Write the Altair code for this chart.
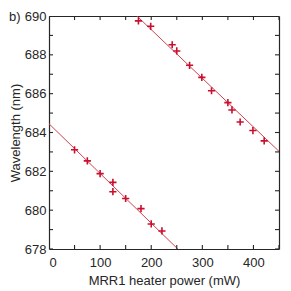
import altair as alt
import pandas as pd

# Measured points (lower resonance series)
low_x = [50, 75, 100, 125, 125, 150, 180, 200, 221]
low_y = [683.11, 682.54, 681.88, 681.43, 680.95, 680.6, 680.08, 679.29, 678.93]
# Upper resonance series
up_x = [175, 199, 241, 250, 275, 299, 318, 350, 358, 374, 399, 421]
up_y = [689.75, 689.47, 688.52, 688.2, 687.46, 686.84, 686.15, 685.54, 685.16, 684.54, 684.1, 683.57]
# Linear fits (endpoints)
fit_low_x = [0, 252]
fit_low_y = [684.45, 678.0]
fit_up_x = [172, 450]
fit_up_y = [690.0, 683.03]

# Tick positions
xticks = list(range(0, 451, 50))
yticks = list(range(678, 691, 1))

pts = pd.DataFrame({"x": low_x + up_x, "y": low_y + up_y,
                    "s": ["low"] * len(low_x) + ["up"] * len(up_x)})
fits = pd.DataFrame({"x": fit_low_x + fit_up_x, "y": fit_low_y + fit_up_y,
                     "s": ["low", "low", "up", "up"]})
xt = pd.DataFrame({"x": xticks})
yt = pd.DataFrame({"y": yticks})

FONT = "Liberation Sans"
TXT = "#262626"
RED = "#c8102e"
W, H = 230, 233

xscale = alt.Scale(domain=[0, 450], nice=False)
yscale = alt.Scale(domain=[678, 690], nice=False)

common_axis = dict(grid=False, ticks=False,
                   domainColor=TXT, domainWidth=1.2,
                   labelFont=FONT, labelFontSize=13, labelColor=TXT,
                   titleFont=FONT, titleFontSize=13, titleColor=TXT,
                   titleFontWeight="normal")

x_bottom = alt.Axis(values=xticks, orient="bottom", title="MRR1 heater power (mW)",
                    labelExpr="datum.value % 100 == 0 ? datum.label : ''",
                    labelPadding=7, titlePadding=5, **common_axis)
y_left = alt.Axis(values=yticks, orient="left", title="Wavelength (nm)",
                  labelExpr="datum.value % 2 == 0 ? datum.label : ''",
                  labelPadding=3, titlePadding=2, **common_axis)
x_top = alt.Axis(values=xticks, orient="top", title=None, labels=False, **common_axis)
y_right = alt.Axis(values=yticks, orient="right", title=None, labels=False, **common_axis)

lines = alt.Chart(fits).mark_line(color="#d2404f", strokeWidth=1, clip=True).encode(
    x=alt.X("x:Q", scale=xscale, axis=x_bottom),
    y=alt.Y("y:Q", scale=yscale, axis=y_left),
    detail="s:N",
)

points = alt.Chart(pts).mark_point(
    shape="M -1 0 L 1 0 M 0 -1 L 0 1", filled=False, color=RED,
    strokeWidth=1.6, size=52, opacity=1, clip=True
).encode(
    x=alt.X("x:Q", scale=xscale, axis=x_top),
    y=alt.Y("y:Q", scale=yscale, axis=y_right),
)

tick_style = dict(color=TXT, thickness=1.1, size=8, clip=True, opacity=1)
xt_top = alt.Chart(xt).mark_tick(**tick_style).encode(
    x=alt.X("x:Q", scale=xscale, axis=None), y=alt.value(0))
xt_bot = alt.Chart(xt).mark_tick(**tick_style).encode(
    x=alt.X("x:Q", scale=xscale, axis=None), y=alt.value(H))
yt_left = alt.Chart(yt).mark_tick(**tick_style).encode(
    y=alt.Y("y:Q", scale=yscale, axis=None), x=alt.value(0))
yt_right = alt.Chart(yt).mark_tick(**tick_style).encode(
    y=alt.Y("y:Q", scale=yscale, axis=None), x=alt.value(W))

label = alt.Chart(pd.DataFrame({"t": ["b)"]})).mark_text(
    font=FONT, fontSize=13, color=TXT, align="left", baseline="middle"
).encode(text="t:N", x=alt.value(-40), y=alt.value(1))

chart = alt.layer(lines, points, xt_top, xt_bot, yt_left, yt_right, label).properties(
    width=W, height=H,
    autosize=alt.AutoSizeParams(type="none"),
    padding={"left": 41, "top": 8, "right": 4, "bottom": 40},
).configure_view(stroke=None)

chart.save("out.html", embed_options={"renderer": "svg", "actions": False})
